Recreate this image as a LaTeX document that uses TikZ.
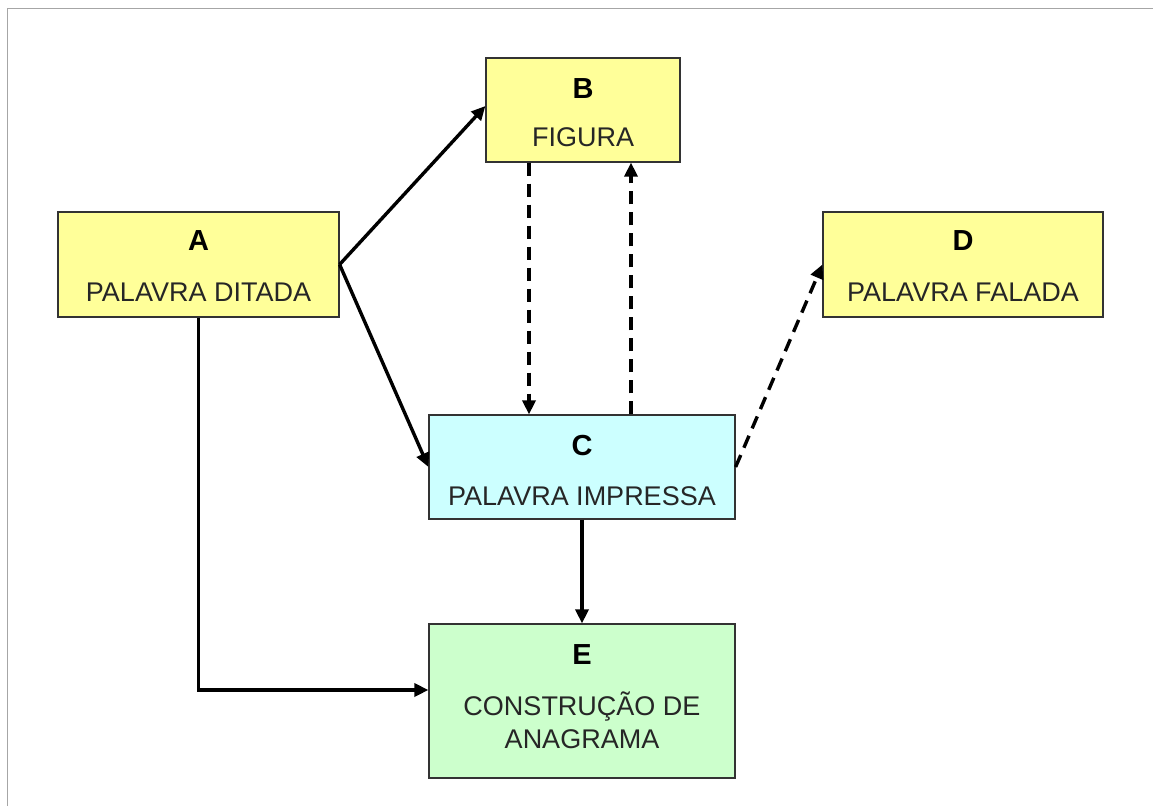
\documentclass[tikz,border=0pt]{standalone}
\usepackage{fontspec}
\setmainfont{Liberation Sans}
\usetikzlibrary{calc,arrows.meta}
\definecolor{byellow}{HTML}{FFFF99}
\definecolor{bcyan}{HTML}{CCFFFF}
\definecolor{bgreen}{HTML}{CCFFCC}
\definecolor{txt}{HTML}{262626}
\tikzset{
  box/.style={draw=black!80, line width=1.2pt, inner sep=0pt},
  letter/.style={font=\fontsize{29}{32}\selectfont\bfseries, text=black},
  label/.style={font=\fontsize{27}{33}\selectfont, text=txt, align=center},
  conn/.style={line width=3.4pt, -{Triangle[length=14pt,width=13pt]}},
  dconn/.style={conn, dash pattern=on 13pt off 8pt},
}
\begin{document}
\begin{tikzpicture}[x=1pt,y=-1pt]
\useasboundingbox (0,0) rectangle (1153,806);
\draw[gray!70, line width=1pt] (7,806) -- (7,8) -- (1153,8);
% boxes
\node[box, fill=byellow, minimum width=194pt, minimum height=104pt] (B) at (583,110) {};
\node[box, fill=byellow, minimum width=281pt, minimum height=105pt] (A) at (198.5,264.5) {};
\node[box, fill=byellow, minimum width=280pt, minimum height=105pt] (D) at (963,264.5) {};
\node[box, fill=bcyan, minimum width=306pt, minimum height=104pt] (C) at (582,467) {};
\node[box, fill=bgreen, minimum width=306pt, minimum height=154pt] (E) at (582,701) {};
% texts
\node[letter] (Bl) at ($(B.north)+(0,31)$) {B};
\node[label] (Bt) at ($(B.north)+(0,80)$) {FIGURA};
\node[letter] (Al) at ($(A.north)+(0,29)$) {A};
\node[label] (At) at ($(A.north)+(0,81)$) {PALAVRA DITADA};
\node[letter] (Dl) at ($(D.north)+(0,29)$) {D};
\node[label] (Dt) at ($(D.north)+(0,81)$) {PALAVRA FALADA};
\node[letter] (Cl) at ($(C.north)+(0,31)$) {C};
\node[label] (Ct) at ($(C.north)+(0,82)$) {PALAVRA IMPRESSA};
\node[letter] (El) at ($(E.north)+(0,31)$) {E};
\node[label] (Et) at ($(E.north)+(0,97)$) {CONSTRUÇÃO DE\\ANAGRAMA};
% connectors
\draw[conn] (A.east) -- ([yshift=4pt]B.west);
\draw[conn] (A.east) -- (C.west);
\draw[conn] (A.south) |- ([yshift=11pt]E.west);
\draw[dconn] ([xshift=-54pt]B.south) -- ([xshift=-53pt]C.north);
\draw[dconn] ([xshift=49pt]C.north) -- ([xshift=48pt]B.south);
\draw[dconn] (C.east) -- (D.west);
\draw[conn] (C.south) -- (E.north);
\end{tikzpicture}
\end{document}
